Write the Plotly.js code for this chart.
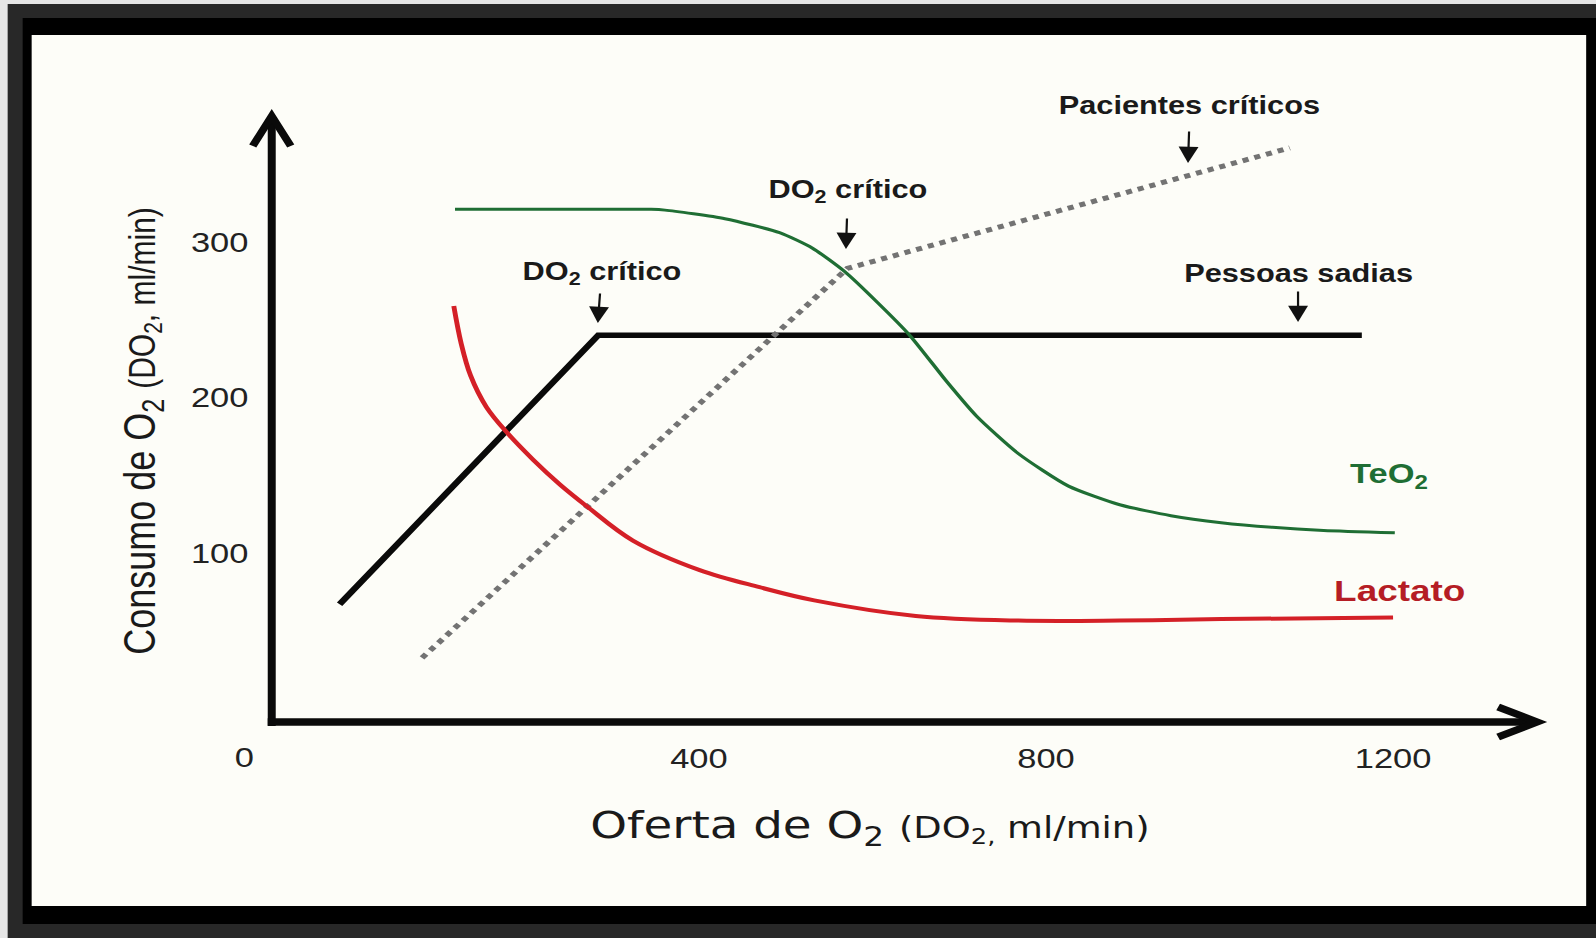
<!DOCTYPE html>
<html>
<head>
<meta charset="utf-8">
<script src="https://cdn.plot.ly/plotly-3.0.1.min.js"></script>
<style>
  html, body { margin:0; padding:0; width:1596px; height:938px; overflow:hidden; background:#e6e6e6; }
  #wrap { position:absolute; left:0; top:0; width:1298px; height:938px; transform-origin:0 0; }
</style>
</head>
<body>
<div id="wrap"></div>
<script>
// ---------------- data ----------------
const sadiasX   = [-14, 284, 1164];          // Pessoas sadias (VO2)
const sadiasY   = [67, 240, 240];
const criticosX = [81, 571, 1081];           // Pacientes críticos (VO2)
const criticosY = [32.5, 283, 360.5];
const teo2X = [119, 300, 345, 361, 430, 493, 531, 568, 606, 643, 686, 720, 768, 826, 885, 944, 1002, 1061, 1120, 1202];
const teo2Y = [321, 321, 321, 320.5, 315, 306, 296, 281, 261, 240, 210, 188, 164, 143, 131, 124, 119.5, 116.5, 114.5, 113];
const lactatoX = [117.6, 126, 137, 155, 178, 209, 240, 271, 324, 401, 470, 533, 650, 768, 885, 1002, 1200];
const lactatoY = [258.8, 235, 214, 194, 178, 160, 144, 130, 108, 89, 78, 69.5, 59.5, 56.5, 56.5, 57.5, 58.5];
const xTickVals = [400, 800, 1200];
const xTickText = ['400', '800', '1200'];
const yTickVals = [100, 200, 300];
const yTickText = ['100', '200', '300'];

// ---------------- geometry helpers ----------------
// the original picture is stretched horizontally; draw narrower and stretch the whole figure
const W = 1298, H = 938, S = 1596 / W;
document.getElementById('wrap').style.transform = 'scaleX(' + S + ')';
// plot area in final (stretched) pixels
const L = 272, R = 1468, T = 140, B = 722;
const PX = px => (px - L) / (R - L);
const PY = py => (B - py) / (B - T);
const xRange = [-92.2, 1286.5];
const yRange = [-8.7, 365.6];

const sansA = 'Liberation Sans, Arial, Helvetica, sans-serif';
const sansD = 'DejaVu Sans, Verdana, sans-serif';

const traces = [
  { x: sadiasX, y: sadiasY, mode: 'lines', name: 'Pessoas sadias',
    line: { color: '#0a0a0a', width: 5.5 } },
  { x: criticosX, y: criticosY, mode: 'lines', name: 'Pacientes críticos',
    line: { color: '#737373', width: 5, dash: 'dot' } },
  { x: teo2X, y: teo2Y, mode: 'lines', name: 'TeO2',
    line: { color: '#1f6e34', width: 3, shape: 'spline', smoothing: 0.6 } },
  { x: lactatoX, y: lactatoY, mode: 'lines', name: 'Lactato',
    line: { color: '#d42027', width: 4, shape: 'spline', smoothing: 1 } }
];

function rect(x0, y0, x1, y1, color) {
  return { type: 'rect', xref: 'paper', yref: 'paper', layer: 'below',
    x0: PX(x0), x1: PX(x1), y0: PY(y0), y1: PY(y1),
    fillcolor: color, line: { width: 0 } };
}
function path(pts, w) {
  let d = pts.map((p, i) => (i ? 'L' : 'M') + PX(p[0]) + ',' + PY(p[1])).join(' ');
  return { type: 'path', xref: 'paper', yref: 'paper', path: d,
    line: { color: '#0a0a0a', width: w } };
}

const shapes = [
  rect(8, 4, 1600, 942, '#282828'),
  rect(23, 18, 1600, 924, '#000000'),
  rect(32, 35, 1586, 906, '#fdfdf8'),
  path([[272, 726], [272, 118]], 6.5),
  path([[253, 146], [272, 116], [291, 146]], 6.5),
  path([[268, 722], [1534, 722]], 7.5),
  path([[1498, 707], [1537, 722], [1498, 737]], 7)
];

const lblFont = { family: sansA, size: 25, color: '#1a1a1a', weight: 'bold' };
function arrowLabel(text, x, y, ax, ay, pad) {
  return { text: text, x: x, y: y, xref: 'x', yref: 'y', ax: ax, ay: ay,
    showarrow: true, arrowhead: 2, arrowsize: 1.8, arrowwidth: 1.8,
    arrowcolor: '#111', standoff: 0, borderpad: pad, font: lblFont };
}

const annotations = [
  arrowLabel('DO<sub>2</sub> crítico', 283.6, 247.9, 3, -50, 4),
  arrowLabel('DO<sub>2</sub> crítico', 569.5, 295.5, 1.6, -58, 11),
  arrowLabel('Pacientes críticos', 963.7, 350.8, 1.6, -58, 12),
  arrowLabel('Pessoas sadias', 1090.5, 248.6, 0, -49, 4),
  { text: 'TeO<sub>2</sub>', xref: 'paper', yref: 'paper', x: PX(1389), y: PY(476),
    xanchor: 'center', yanchor: 'middle', showarrow: false,
    font: { family: sansA, size: 28, color: '#1f6e34', weight: 'bold' } },
  { text: 'Lactato', xref: 'paper', yref: 'paper', x: PX(1400), y: PY(590),
    xanchor: 'center', yanchor: 'middle', showarrow: false,
    font: { family: sansA, size: 30, color: '#b51d25', weight: 'bold' } },
  { text: '0', xref: 'paper', yref: 'paper', x: PX(245), y: PY(757),
    xanchor: 'center', yanchor: 'middle', showarrow: false,
    font: { family: sansA, size: 28, color: '#222' } }
];

const layout = {
  width: W, height: H, autosize: false,
  margin: { l: L / S, r: W - R / S, t: T, b: H - B, pad: 0 },
  paper_bgcolor: 'rgba(0,0,0,0)', plot_bgcolor: 'rgba(0,0,0,0)',
  showlegend: false, hovermode: false,
  xaxis: { range: xRange, showgrid: false, zeroline: false, showline: false, ticks: '',
    tickvals: xTickVals, ticktext: xTickText, ticklabelstandoff: 17,
    tickfont: { family: sansA, size: 28, color: '#222' },
    title: { text: 'Oferta de O<sub>2</sub> <span style="font-size:30px">(DO<sub>2,</sub> ml/min)</span>',
      font: { family: sansD, size: 38, color: '#1a1a1a' }, standoff: 38 } },
  yaxis: { range: yRange, showgrid: false, zeroline: false, showline: false, ticks: '',
    tickvals: yTickVals, ticktext: yTickText, ticklabelstandoff: 18,
    tickfont: { family: sansA, size: 28, color: '#222' },
    title: { text: 'Consumo de O<sub>2</sub> <span style="font-size:30px">(DO<sub>2</sub>, ml/min)</span>',
      font: { family: sansA, size: 36, color: '#1a1a1a' }, standoff: 17.5 } },
  shapes: shapes,
  annotations: annotations
};

Plotly.newPlot('wrap', traces, layout, { staticPlot: true, displayModeBar: false });
</script>
</body>
</html>
